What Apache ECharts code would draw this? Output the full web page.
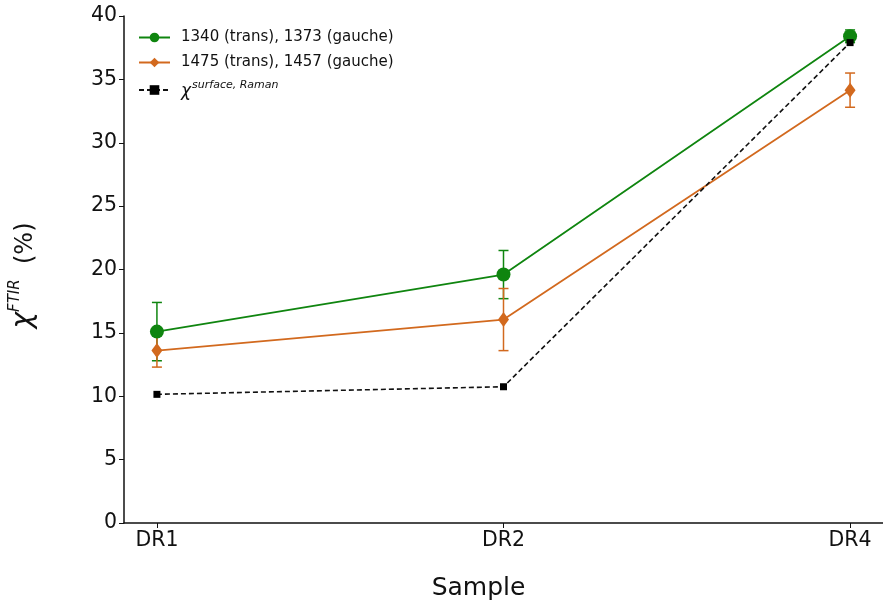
<!DOCTYPE html>
<html>
<head>
<meta charset="utf-8">
<script src="https://cdn.jsdelivr.net/npm/echarts@6/dist/echarts.min.js"></script>
<style>
    html, body { margin: 0; padding: 0; background: #fff; }
    #chart { width: 883px; height: 606px; }
</style>
</head>
<body>
<div id="chart"></div>
<script>
'use strict';

var samples = ['DR1', 'DR2', 'DR4'];
var green_vals = [15.1, 19.6, 38.4];
var green_err = [2.3, 1.9, 0.5];
var orange_vals = [13.6, 16.05, 34.15];
var orange_err = [1.3, 2.45, 1.35];
var raman_vals = [10.15, 10.75, 37.9];

var GREEN = '#0f850f';
var ORANGE = '#d2691e';
var FONT = 'DejaVu Sans';

function toPoints(vals) {
    var arr = [];
    for (var i = 0; i < vals.length; i++) {
        arr.push([i, vals[i]]);
    }
    return arr;
}

function toErr(vals, err) {
    var arr = [];
    for (var i = 0; i < vals.length; i++) {
        arr.push([i, vals[i] - err[i], vals[i] + err[i]]);
    }
    return arr;
}

function errorBars(name, color, data) {
    return {
        name: name,
        type: 'custom',
        z: 1,
        silent: true,
        data: data,
        renderItem: function (params, api) {
            var x = api.value(0);
            var hi = api.coord([x, api.value(2)]);
            var lo = api.coord([x, api.value(1)]);
            var w = 5;
            var st = { stroke: color, lineWidth: 1.5 };
            return {
                type: 'group',
                children: [
                    { type: 'line', shape: { x1: hi[0], y1: hi[1], x2: lo[0], y2: lo[1] }, style: st },
                    { type: 'line', shape: { x1: hi[0] - w, y1: hi[1], x2: hi[0] + w, y2: hi[1] }, style: st },
                    { type: 'line', shape: { x1: lo[0] - w, y1: lo[1], x2: lo[0] + w, y2: lo[1] }, style: st }
                ]
            };
        }
    };
}

var my_chart = echarts.init(document.getElementById('chart'));

var name1 = '1340 (trans), 1373 (gauche)';
var name2 = '1475 (trans), 1457 (gauche)';
var name3 = 'raman';

my_chart.setOption({
    animation: false,
    textStyle: { fontFamily: FONT },
    grid: { left: 124, right: 0, top: 16, bottom: 83 },
    legend: {
        left: 133,
        top: 25,
        orient: 'vertical',
        itemWidth: 31,
        itemHeight: 12,
        itemGap: 10,
        data: [name1, name2, name3],
        formatter: function (name) {
            if (name == name3) {
                return '{c|χ}{s|surface, Raman}';
            }
            return name;
        },
        textStyle: {
            fontFamily: FONT,
            fontSize: 15,
            color: '#111',
            padding: [0, 0, 0, 6],
            rich: {
                c: { fontFamily: FONT, fontSize: 17, fontStyle: 'italic', color: '#111', verticalAlign: 'bottom' },
                s: { fontFamily: FONT, fontSize: 11, fontStyle: 'italic', color: '#111', verticalAlign: 'top', padding: [0, 0, 9, 1] }
            }
        }
    },
    xAxis: {
        type: 'value',
        min: -0.095,
        max: 2.095,
        name: 'Sample',
        nameLocation: 'middle',
        nameGap: 53,
        nameTextStyle: { fontFamily: FONT, fontSize: 25, color: '#111', padding: [0, 50, 0, 0] },
        axisLine: { onZero: false, lineStyle: { color: '#111', width: 1.5 } },
        axisTick: { length: 5, lineStyle: { color: '#111' }, customValues: [0, 1, 2] },
        axisLabel: {
            fontFamily: FONT, fontSize: 20.5, color: '#111', margin: 7,
            customValues: [0, 1, 2],
            formatter: function (v) { return samples[Math.round(v)]; }
        },
        splitLine: { show: false }
    },
    yAxis: {
        type: 'value',
        min: 0,
        max: 40,
        interval: 5,
        name: '{c|χ}{s|FTIR}{p|  (%)}',
        nameLocation: 'middle',
        nameRotate: 90,
        nameGap: 86,
        nameTextStyle: {
            padding: [0, 12, 0, 0],
            rich: {
                c: { fontFamily: FONT, fontSize: 28, fontStyle: 'italic', color: '#111', verticalAlign: 'bottom' },
                s: { fontFamily: FONT, fontSize: 15, fontStyle: 'italic', color: '#111', verticalAlign: 'top', padding: [0, 0, 15, 0] },
                p: { fontFamily: FONT, fontSize: 24, color: '#111', verticalAlign: 'bottom' }
            }
        },
        axisLine: { show: true, onZero: false, lineStyle: { color: '#111', width: 1.5 } },
        axisTick: { show: true, length: 5, lineStyle: { color: '#111' } },
        axisLabel: { fontFamily: FONT, fontSize: 20.5, color: '#111', margin: 7 },
        splitLine: { show: false }
    },
    series: [
        errorBars('err1', GREEN, toErr(green_vals, green_err)),
        errorBars('err2', ORANGE, toErr(orange_vals, orange_err)),
        {
            name: name1,
            type: 'line',
            z: 3,
            data: toPoints(green_vals),
            symbol: 'circle',
            symbolSize: 14,
            itemStyle: { color: GREEN },
            lineStyle: { color: GREEN, width: 1.8 }
        },
        {
            name: name2,
            type: 'line',
            z: 3,
            data: toPoints(orange_vals),
            symbol: 'diamond',
            symbolSize: [11, 15],
            itemStyle: { color: ORANGE },
            lineStyle: { color: ORANGE, width: 1.8 }
        },
        {
            name: name3,
            type: 'line',
            z: 4,
            data: toPoints(raman_vals),
            symbol: 'rect',
            symbolSize: 7,
            itemStyle: { color: '#000' },
            lineStyle: { color: '#111', width: 1.6, type: [5, 3] }
        }
    ]
});
</script>
</body>
</html>
